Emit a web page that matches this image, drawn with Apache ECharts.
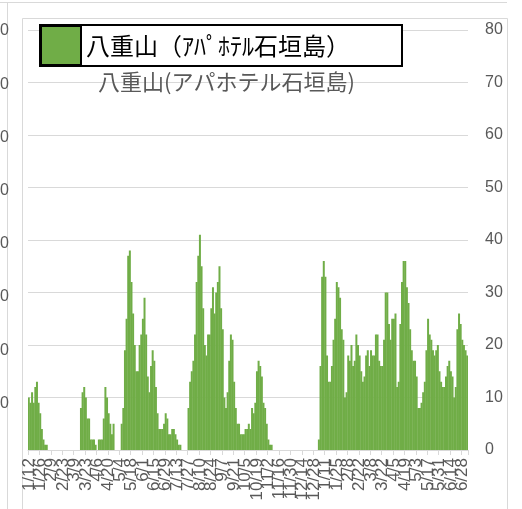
<!DOCTYPE html>
<html><head><meta charset="utf-8">
<script src="https://cdn.jsdelivr.net/npm/echarts@6/dist/echarts.min.js"></script>
<style>html,body{margin:0;padding:0;background:#fff}#c{width:522px;height:509px}</style>
</head><body><div id="c"></div>
<script>
const seriesName = '八重山（ｱﾊﾟﾎﾃﾙ石垣島）';
const titleText = '八重山(アパホテル石垣島)';
const tickLabels = ['1/12','1/26','2/9','2/23','3/9','3/23','4/6','4/20','5/4','5/18','6/1','6/15','6/29','7/13','7/27','8/10','8/24','9/7','9/21','10/5','10/19','11/2','11/16','11/30','12/14','12/28','1/11','1/25','2/8','2/22','3/8','3/22','4/5','4/19','5/3','5/17','5/31','6/14','6/28'];
const yTicks = [0,10,20,30,40,50,60,70,80];
const leftAxisFragments = ['80','70','60','50','40','30','20','10'];
// two-day values, 7 per tick label interval (last 3 after the final label)
const values = [
10,9,11,9,12,13,9,7,4,2,1,1,0,0,0,0,0,0,0,0,
0,0,0,0,0,0,0,0,0,0,0,0,8,11,12,10,6,6,2,2,
2,1,0,2,2,2,6,12,10,7,5,3,5,0,0,0,0,5,8,19,25,
37,38,32,26,20,15,15,20,22,25,29,22,14,11,16,19,17,12,7,4,
4,4,5,7,6,3,3,4,4,3,2,1,1,0,0,0,0,8,13,15,
17,22,32,37,41,35,27,20,18,22,22,27,31,26,30,32,35,27,23,10,
8,11,17,22,21,13,8,5,5,3,3,3,4,4,5,4,8,7,9,15,17,
16,14,9,8,5,2,1,1,0,0,0,0,0,0,0,0,0,0,0,0,
0,0,0,0,0,0,0,0,0,0,0,0,0,0,0,0,2,16,33,36,
33,18,13,13,16,21,25,32,31,29,23,21,10,11,18,17,20,16,17,22,
20,18,15,13,14,18,19,16,19,18,18,22,22,17,16,16,21,30,30,24,
21,25,25,26,12,13,24,32,36,36,31,28,23,19,17,17,14,8,8,9,11,
13,19,25,22,21,19,18,19,20,15,13,12,12,14,16,17,15,14,10,12,
23,26,24,21,20,19,18
];
const categories = values.map((v, i) => String(i));

const chart = echarts.init(document.getElementById('c'), null, {renderer: 'canvas'});
const gray = '#595959', lineGray = '#d9d9d9';
const graphics = [
  {type:'line', shape:{x1:0,y1:2.5,x2:507,y2:2.5}, style:{stroke:lineGray,lineWidth:1}, silent:true},
  {type:'line', shape:{x1:7.5,y1:2,x2:7.5,y2:509}, style:{stroke:lineGray,lineWidth:1}, silent:true},
  {type:'rect', shape:{x:22.5,y:18.5,width:485,height:500}, style:{fill:null,stroke:lineGray,lineWidth:1}, silent:true}
];
leftAxisFragments.forEach((t, i) => {
  graphics.push({type:'text', x:9, y:31 + i*53.2, style:{text:t, fill:gray, font:'16px "Liberation Sans", Arial, sans-serif', textAlign:'right', textVerticalAlign:'middle'}, silent:true});
});
chart.setOption({
  animation: false,
  backgroundColor: '#fff',
  title: {
    text: titleText, left: 93, top: 66,
    textStyle: {color: gray, fontSize: 22, fontWeight: 'normal', fontFamily: '"Noto Sans CJK JP", sans-serif'}
  },
  legend: {
    data: [seriesName], left: 40, top: 25,
    padding: [0, 52, 0, 0], backgroundColor: '#fff', borderColor: '#000', borderWidth: 2, borderRadius: 0,
    icon: 'rect', itemWidth: 40, itemHeight: 39,
    itemStyle: {color: '#70AD47', borderColor: '#000', borderWidth: 2},
    textStyle: {color: '#000', fontSize: 24, fontFamily: '"Noto Sans CJK JP", sans-serif'}
  },
  graphic: graphics,
  grid: {left: 28, right: 54, top: 30, bottom: 59, containLabel: false},
  xAxis: {
    type: 'category', data: categories, boundaryGap: true,
    axisLine: {lineStyle: {color: lineGray, width: 1}},
    axisTick: {show: true, interval: (i) => i % 7 === 0 && i / 7 < tickLabels.length, length: 5, lineStyle: {color: lineGray}},
    axisLabel: {
      interval: 0, rotate: 90, margin: 8, color: gray, fontSize: 17, hideOverlap: false,
      showMinLabel: true, showMaxLabel: true,
      fontFamily: '"Liberation Sans", Arial, sans-serif',
      formatter: (v) => { const i = Number(v); return (i % 7 === 0 && i / 7 < tickLabels.length) ? tickLabels[i / 7] : ''; }
    },
    splitLine: {show: false}
  },
  yAxis: {
    type: 'value', position: 'right', min: yTicks[0], max: yTicks[yTicks.length - 1], interval: 10,
    axisLine: {show: false}, axisTick: {show: false},
    axisLabel: {margin: 17, color: gray, fontSize: 16, fontFamily: '"Liberation Sans", Arial, sans-serif'},
    splitLine: {lineStyle: {color: lineGray, width: 1}}
  },
  series: [{
    name: seriesName, type: 'bar', data: values, barWidth: 2,
    itemStyle: {color: '#70AD47'}
  }]
});
</script></body></html>
